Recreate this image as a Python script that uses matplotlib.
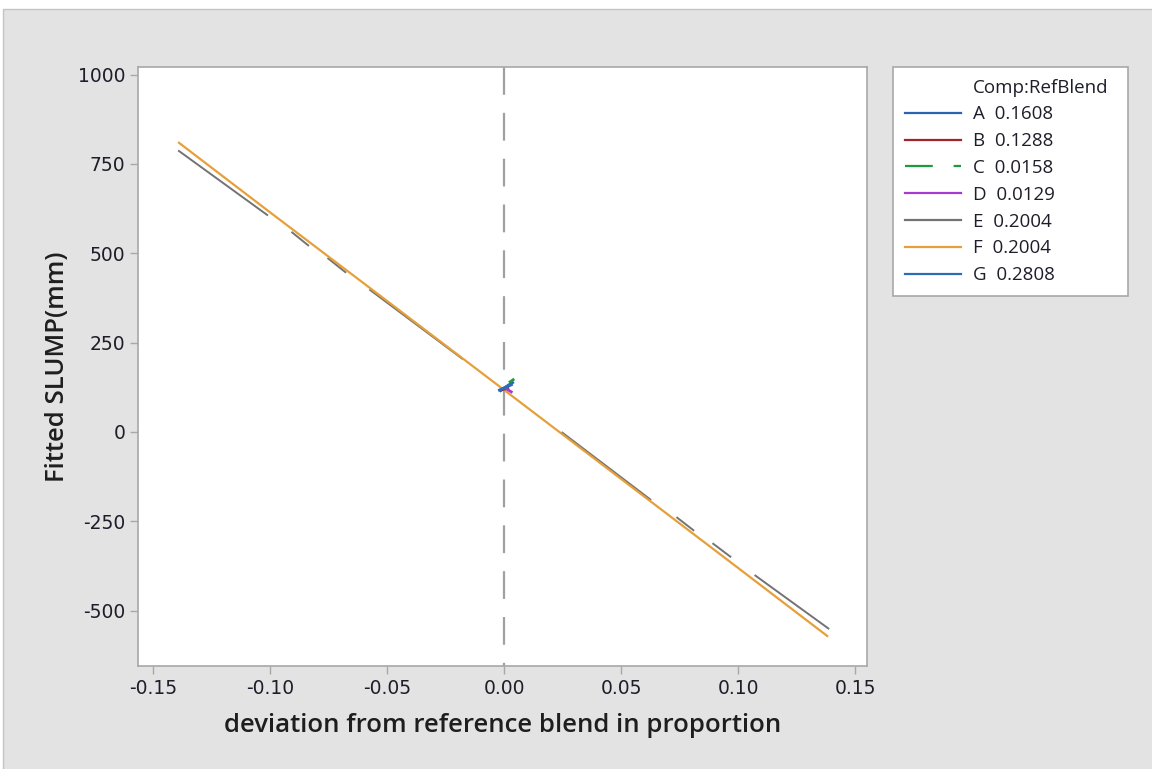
import numpy as np
import matplotlib
matplotlib.use("Agg")
import matplotlib.pyplot as plt
from matplotlib import font_manager
from matplotlib.patches import Rectangle
from matplotlib.lines import Line2D

# ---------------- data ----------------
components = ["A", "B", "C", "D", "E", "F", "G"]
ref_blend = ["0.1608", "0.1288", "0.0158", "0.0129", "0.2004", "0.2004", "0.2808"]

# long traces (E and F)
f_x = [-0.139, -0.100, -0.050, 0.000, 0.050, 0.100, 0.138]
f_y = [809, 614, 366, 117, -132, -381, -571]

e_x = [-0.139, -0.1013, np.nan, -0.0906, -0.0838, np.nan, -0.0752, -0.0679, np.nan,
       -0.0573, -0.018, np.nan, 0.0248, 0.0624, np.nan, 0.0739, 0.0808, np.nan,
       0.0893, 0.0966, np.nan, 0.1073, 0.1385]
e_y = [786, 607, np.nan, 558, 522, np.nan, 485, 447, np.nan,
       397, 205, np.nan, -2, -189, np.nan, -240, -275, np.nan,
       -313, -349, np.nan, -402, -550]

# short traces near the reference blend
a_x = [-0.0015, 0.0035]
a_y = [116, 138]
b_x = [-0.0012, 0.0015]
b_y = [118, 122]
c_x = [0.0025, 0.0038]
c_y = [140, 146]
d_x = [0.0008, 0.0030]
d_y = [121, 112]
g_x = [-0.0020, 0.0030]
g_y = [117, 132]

x_ticks = [-0.15, -0.10, -0.05, 0.00, 0.05, 0.10, 0.15]
y_ticks = [-500, -250, 0, 250, 500, 750, 1000]

# ---------------- style ----------------
names = {f.name for f in font_manager.fontManager.ttflist}
label_font = "Open Sans" if "Open Sans" in names else "DejaVu Sans"
plt.rcParams["lines.scale_dashes"] = False

colors = {
    "A": "#2a63b0", "B": "#a3222c", "C": "#1f9a3e", "D": "#a53bcc",
    "E": "#737373", "F": "#e5a03a", "G": "#2f6cb6",
}

W, H = 1152, 769
fig = plt.figure(figsize=(W / 100, H / 100), dpi=100, facecolor="white")
bg = Rectangle((3 / W, -0.01), 1.0, 1 - 9 / H + 0.01,
               transform=fig.transFigure, facecolor="#e3e3e3",
               edgecolor="#c4c4c4", linewidth=1.0, zorder=-10)
fig.patches.append(bg)

ax = fig.add_axes([138 / W, 1 - 666 / H, (867 - 138) / W, (666 - 67) / H])
ax.set_zorder(1)
ax.set_facecolor("white")
ax.set_xlim(-0.1565, 0.1550)
ax.set_ylim(-655, 1021)

# reference line
ax.plot([0, 0], [1021, -655], color="#a0a0a0", lw=1.6, dashes=(20, 13), zorder=1)

ax.plot(e_x, e_y, color=colors["E"], lw=1.4, zorder=2)
ax.plot(f_x, f_y, color=colors["F"], lw=1.6, zorder=3)
ax.plot(a_x, a_y, color=colors["A"], lw=2.2, zorder=4)
ax.plot(b_x, b_y, color=colors["B"], lw=2.0, zorder=4)
ax.plot(c_x, c_y, color=colors["C"], lw=2.0, zorder=4)
ax.plot(d_x, d_y, color=colors["D"], lw=2.0, zorder=4)
ax.plot(g_x, g_y, color=colors["G"], lw=2.2, zorder=5)

ax.set_xticks(x_ticks)
ax.set_xticklabels([f"{v:.2f}" for v in x_ticks])
ax.set_yticks(y_ticks)
ax.set_yticklabels([str(v) for v in y_ticks])
for s in ax.spines.values():
    s.set_color("#a8a8a8")
    s.set_linewidth(1.2)
ax.tick_params(direction="out", length=6, width=1.0, color="#a8a8a8",
               labelsize=13.5, labelcolor="#1e1e2a", pad=3)
for lab in ax.get_xticklabels() + ax.get_yticklabels():
    lab.set_fontfamily("DejaVu Sans")

ax.set_xlabel("deviation from reference blend in proportion", fontsize=18.5,
              family=label_font, weight="semibold", color="#1e1e1e")
ax.set_ylabel("Fitted SLUMP(mm)", fontsize=18.5, family=label_font,
              weight="semibold", color="#1e1e1e")
ax.xaxis.set_label_coords(0.5, 1 - (726 - 67) / (666 - 67), transform=ax.transAxes)
ax.xaxis.label.set_va("center")
ax.yaxis.set_label_coords((57 - 138) / (867 - 138), 0.5, transform=ax.transAxes)
ax.yaxis.label.set_va("center")

# legend
handles = [Line2D([], [], color="none")]
labels = ["Comp:RefBlend"]
for c, r in zip(components, ref_blend):
    if c == "C":
        h = Line2D([], [], color=colors[c], lw=1.6, dashes=(20, 15))
    else:
        h = Line2D([], [], color=colors[c], lw=1.6)
    handles.append(h)
    labels.append(f"{c}  {r}")
leg = fig.legend(handles, labels, loc="upper left",
                 bbox_to_anchor=(893 / W, 1 - 67 / H, 235 / W, 0.0001),
                 mode="expand", borderaxespad=0, frameon=True, fancybox=False,
                 edgecolor="#a8a8a8", facecolor="white", framealpha=1,
                 handlelength=3.0, handletextpad=0.64, labelspacing=0.47,
                 borderpad=0.62, prop={"family": label_font, "size": 13.5})
leg.set_zorder(2)
leg.get_frame().set_linewidth(1.2)
for t in leg.get_texts():
    t.set_color("#1e1e2a")

fig.savefig("out.png", dpi=100, facecolor=fig.get_facecolor())
